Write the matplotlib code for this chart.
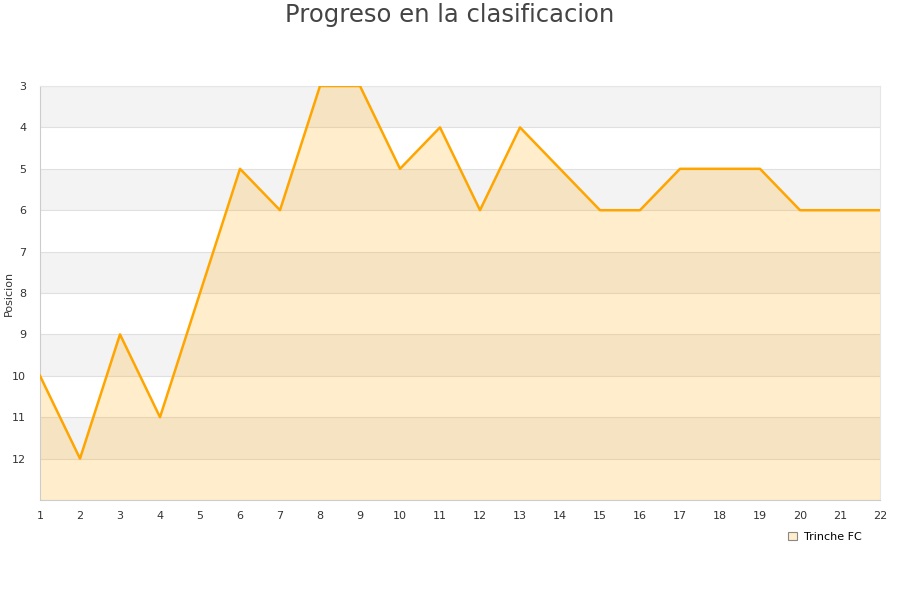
import matplotlib.pyplot as plt
import numpy as np

# Jornadas y posiciones de Trinche FC
jornadas = list(range(1, 23))
posicion = [10, 12, 9, 11, 8, 5, 6, 3, 3, 5, 4, 6, 4, 5, 6, 6, 5, 5, 5, 6, 6, 6]
yticks = list(range(3, 13))

fig = plt.figure(figsize=(9, 6), dpi=100)
ax = fig.add_axes([40/900, 1-500/600, 840/900, 414/600])

# bandas alternas del fondo
for y0 in range(3, 13, 2):
    ax.axhspan(y0, y0+1, color='#f3f3f3', zorder=0, lw=0)
for y in range(3, 14):
    ax.axhline(y, color='#e0e0e0', lw=0.8, zorder=1)

ax.fill_between(jornadas, posicion, 13, color='orange', alpha=0.2, lw=0, zorder=2)
ax.plot(jornadas, posicion, color='orange', lw=1.8, zorder=3, label='Trinche FC')

ax.set_xlim(1, 22)
ax.set_ylim(13, 3)
ax.set_xticks(jornadas)
ax.set_yticks(yticks)
ax.tick_params(length=0, labelsize=8, colors='#333333')
ax.tick_params(axis='y', pad=10)
ax.tick_params(axis='x', pad=8)
for s in ['top', 'right']:
    ax.spines[s].set_color('#e6e6e6')
for s in ['left', 'bottom']:
    ax.spines[s].set_color('#cccccc')

ax.set_ylabel('Posicion', fontsize=8, color='#333333')
ax.yaxis.set_label_coords(-26/840, 0.5)
fig.text(0.5, 1-15/600, 'Progreso en la clasificacion', fontsize=17.5,
         color='#444444', ha='center', va='center')

h = plt.Rectangle((0, 0), 1, 1, facecolor='#ffedcc', edgecolor='#888888', lw=0.8)
fig.legend([h], ['Trinche FC'], loc='center', bbox_to_anchor=(825/900, 1-537/600),
           frameon=False, fontsize=8, handlelength=0.8, handleheight=0.8, handletextpad=0.6)

fig.savefig('out.png', dpi=100)
